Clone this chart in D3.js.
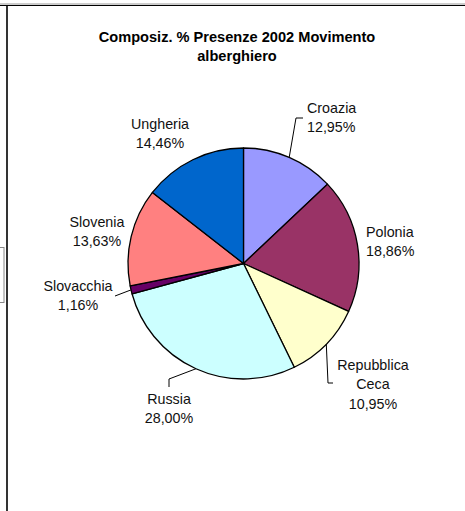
<!DOCTYPE html>
<html>
<head>
<meta charset="utf-8">
<script src="https://cdn.jsdelivr.net/npm/d3@7/dist/d3.min.js"></script>
<style>
  html, body { margin: 0; padding: 0; background: #fff; }
  svg { display: block; }
</style>
</head>
<body>
<svg id="chart" width="465" height="511"></svg>
<script>
// ---- data ----
const categories = ["Croazia", "Polonia", "Repubblica Ceca", "Russia", "Slovacchia", "Slovenia", "Ungheria"];
const values = [12.95, 18.86, 10.95, 28.00, 1.16, 13.63, 14.46];
const valueLabels = ["12,95%", "18,86%", "10,95%", "28,00%", "1,16%", "13,63%", "14,46%"];
const colors = ["#9999FF", "#993366", "#FFFFCC", "#CCFFFF", "#660066", "#FF8080", "#0066CC"];
const titleLines = ["Composiz. % Presenze 2002 Movimento", "alberghiero"];

// ---- layout (positions / styles) ----
const cx = 243.5, cy = 263.5, R = 115.5;
const fontFam = "'Liberation Sans', Arial, sans-serif";
const labelLayout = {
  "Croazia":         { lines: ["Croazia"], x: 307, y: 113, anchor: "start", leader: [[296, 118], [303, 118]] },
  "Polonia":         { lines: ["Polonia"], x: 366, y: 237, anchor: "start", leader: null },
  "Repubblica Ceca": { lines: ["Repubblica", "Ceca"], x: 373, y: 370, anchor: "middle", leader: [[328, 383], [333, 383]] },
  "Russia":          { lines: ["Russia"], x: 169, y: 404, anchor: "middle", leader: [[169, 379], [169, 387]] },
  "Slovacchia":      { lines: ["Slovacchia"], x: 78, y: 291, anchor: "middle", leader: [[115, 296]] },
  "Slovenia":        { lines: ["Slovenia"], x: 97, y: 227, anchor: "middle", leader: null },
  "Ungheria":        { lines: ["Ungheria"], x: 160, y: 129, anchor: "middle", leader: null }
};

const svg = d3.select("#chart");

// frame decorations
svg.append("line").attr("x1", 0).attr("x2", 465).attr("y1", 4).attr("y2", 4).attr("stroke", "#999").attr("stroke-width", 1);
svg.append("line").attr("x1", 0).attr("x2", 465).attr("y1", 5.5).attr("y2", 5.5).attr("stroke", "#000").attr("stroke-width", 1.2);
svg.append("line").attr("x1", 7).attr("x2", 7).attr("y1", 5).attr("y2", 511).attr("stroke", "#000").attr("stroke-width", 1.6);
svg.append("rect").attr("x", -2).attr("y", 247.5).attr("width", 6).attr("height", 55)
  .attr("fill", "none").attr("stroke", "#888").attr("stroke-width", 1);

// title
svg.append("text")
  .attr("x", 237).attr("y", 42)
  .attr("text-anchor", "middle")
  .attr("font-family", fontFam).attr("font-weight", "bold").attr("font-size", "14.6px")
  .attr("fill", "#000")
  .selectAll("tspan").data(titleLines).join("tspan")
  .attr("x", 237).attr("dy", (d, i) => i === 0 ? 0 : 19)
  .text(d => d);

// pie
const data = categories.map((c, i) => ({ name: c, value: values[i], label: valueLabels[i], color: colors[i] }));
const pie = d3.pie().value(d => d.value).sort(null).startAngle(0).endAngle(2 * Math.PI);
const arcs = pie(data);
const arc = d3.arc().innerRadius(0).outerRadius(R);

const g = svg.append("g").attr("transform", `translate(${cx},${cy})`);
g.selectAll("path").data(arcs).join("path")
  .attr("d", arc)
  .attr("fill", d => d.data.color)
  .attr("stroke", "#000")
  .attr("stroke-width", 1.3)
  .attr("stroke-linejoin", "round");

// leader lines
arcs.forEach(a => {
  const L = labelLayout[a.data.name];
  if (!L.leader) return;
  const mid = (a.startAngle + a.endAngle) / 2;
  const p0 = [cx + R * Math.sin(mid), cy - R * Math.cos(mid)];
  const pts = [p0].concat(L.leader);
  svg.append("path")
    .attr("d", d3.line()(pts))
    .attr("fill", "none")
    .attr("stroke", "#000")
    .attr("stroke-width", 1);
});

// labels
arcs.forEach(a => {
  const L = labelLayout[a.data.name];
  const lines = L.lines.concat([a.data.label]);
  const t = svg.append("text")
    .attr("font-family", fontFam).attr("font-size", "14.3px")
    .attr("fill", "#111")
    .attr("text-anchor", L.anchor);
  lines.forEach((ln, i) => {
    t.append("tspan").attr("x", L.x).attr("y", L.y + i * 19.3).text(ln);
  });
});
</script>
</body>
</html>
